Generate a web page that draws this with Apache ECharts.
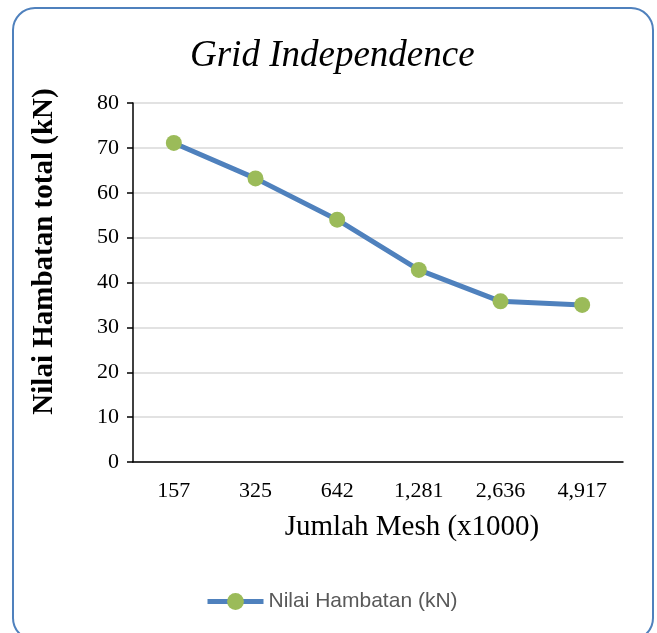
<!DOCTYPE html>
<html>
<head>
<meta charset="utf-8">
<script src="https://cdn.jsdelivr.net/npm/echarts@6/dist/echarts.min.js"></script>
<style>
html,body{margin:0;padding:0;background:#fff;}
#chart{width:657px;height:633px;}
</style>
</head>
<body>
<div id="chart"></div>
<script>
const categories = ['157', '325', '642', '1,281', '2,636', '4,917'];
const hambatanValues = [71.1, 63.2, 54.0, 42.8, 35.8, 35.0];
const yTicks = { min: 0, max: 80, interval: 10 };
const titleText = 'Grid Independence';
const xName = 'Jumlah Mesh (x1000)';
const yName = 'Nilai Hambatan total (kN)';
const seriesName = 'Nilai Hambatan (kN)';

const serif = '"Liberation Serif", "DejaVu Serif", serif';
const chart = echarts.init(document.getElementById('chart'));
chart.setOption({
  animation: false,
  backgroundColor: '#ffffff',
  graphic: [{
    type: 'rect',
    shape: { x: 13, y: 8, width: 640, height: 632, r: 22 },
    style: { fill: 'none', stroke: '#4f81bd', lineWidth: 2 },
    silent: true
  }],
  title: {
    text: titleText,
    left: 185,
    top: 33,
    textStyle: { fontFamily: serif, fontStyle: 'italic', fontWeight: 'normal', fontSize: 37, color: '#000' }
  },
  grid: { left: 133, right: 34, top: 103, bottom: 171, containLabel: false },
  legend: {
    data: [seriesName],
    left: 200,
    top: 586,
    itemWidth: 56,
    itemHeight: 21,
    itemGap: 4,
    lineStyle: { width: 5 },
    textStyle: { fontFamily: '"Liberation Sans", Arial, sans-serif', fontSize: 21, color: '#595959' }
  },
  xAxis: {
    type: 'category',
    data: categories,
    boundaryGap: true,
    name: xName,
    nameLocation: 'middle',
    nameGap: 51,
    nameTextStyle: { fontFamily: serif, fontSize: 29, color: '#000', padding: [0, 0, 0, 68] },
    axisLine: { lineStyle: { color: '#000', width: 1.5 } },
    axisTick: { alignWithLabel: true, length: 6, lineStyle: { color: '#000', width: 1.5 } },
    axisLabel: { fontFamily: serif, fontSize: 22, color: '#000', margin: 18 },
    splitLine: { show: false }
  },
  yAxis: {
    type: 'value',
    min: yTicks.min,
    max: yTicks.max,
    interval: yTicks.interval,
    name: yName,
    nameLocation: 'middle',
    nameGap: 74,
    nameRotate: 90,
    nameTextStyle: { fontFamily: serif, fontSize: 29, fontWeight: 'bold', color: '#000', padding: [0, 0, 0, 62] },
    axisLine: { show: true, lineStyle: { color: '#000', width: 1.5 } },
    axisTick: { show: true, length: 6, lineStyle: { color: '#000', width: 1.5 } },
    axisLabel: { fontFamily: serif, fontSize: 22, color: '#000', margin: 14 },
    splitLine: { show: true, lineStyle: { color: '#d9d9d9', width: 1.5 } }
  },
  series: [{
    name: seriesName,
    type: 'line',
    data: hambatanValues,
    symbol: 'circle',
    symbolSize: 16,
    lineStyle: { color: '#4f81bd', width: 5 },
    itemStyle: { color: '#9bbb59', borderWidth: 0 }
  }]
});
</script>
</body>
</html>
